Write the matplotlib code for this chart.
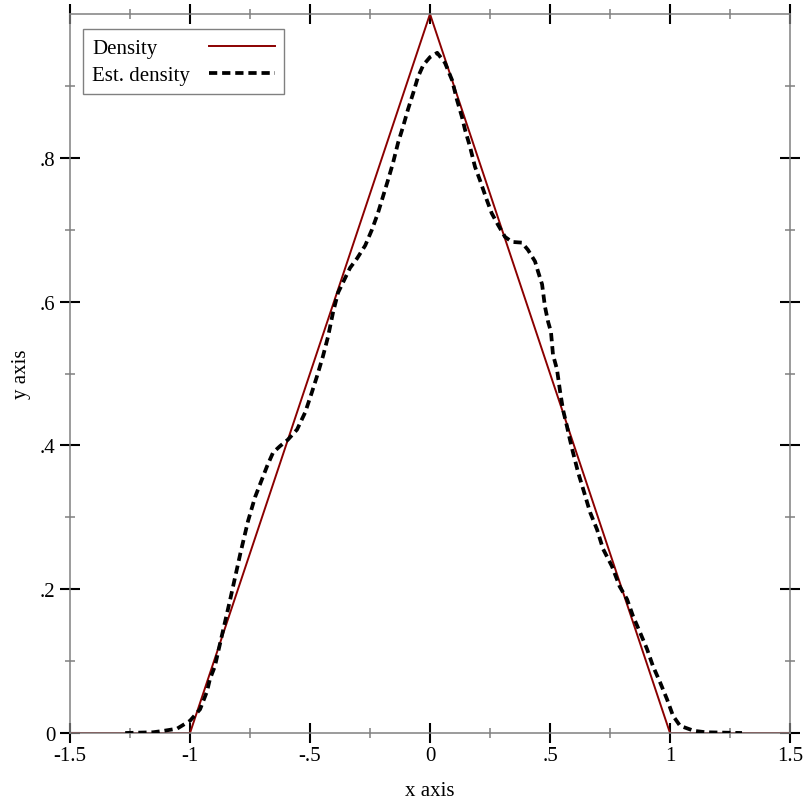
import numpy as np
import matplotlib
matplotlib.use('Agg')
import matplotlib.pyplot as plt
from matplotlib.ticker import FixedLocator, FuncFormatter

# exact density (triangle)
dens_x = [-1.5, -1.0, 0.0, 1.0, 1.5]
dens_y = [0.0, 0.0, 1.0, 0.0, 0.0]

# estimated density
est_x = [-1.27, -1.154, -1.11, -1.054, -1.0, -0.958, -0.929, -0.917, -0.896, -0.883,
         -0.833, -0.79, -0.758, -0.729, -0.7, -0.679, -0.654, -0.625, -0.592, -0.554,
         -0.52, -0.492, -0.471, -0.446, -0.425, -0.404, -0.383, -0.333, -0.304, -0.27,
         -0.242, -0.217, -0.196, -0.175, -0.154, -0.133, -0.1125, -0.092, -0.07, -0.05,
         -0.028, 0.0, 0.03, 0.0625, 0.092, 0.112, 0.133, 0.146, 0.167, 0.1875,
         0.208, 0.236, 0.257, 0.283, 0.3125, 0.342, 0.383, 0.408, 0.4375, 0.45,
         0.467, 0.479, 0.492, 0.504, 0.5125, 0.529, 0.542, 0.554, 0.571, 0.583,
         0.596, 0.617, 0.6375, 0.667, 0.696, 0.721, 0.758, 0.79, 0.821, 0.846,
         0.875, 0.904, 0.929, 0.958, 0.9875, 1.0125, 1.042, 1.1, 1.15, 1.3]
est_y = [0.0, 0.001, 0.003, 0.006, 0.017, 0.033, 0.058, 0.075, 0.093, 0.1125,
         0.185, 0.25, 0.295, 0.328, 0.353, 0.371, 0.39, 0.399, 0.408, 0.422,
         0.446, 0.474, 0.496, 0.524, 0.551, 0.585, 0.6125, 0.647, 0.66, 0.678,
         0.7, 0.723, 0.746, 0.769, 0.793, 0.821, 0.843, 0.867, 0.89, 0.9125,
         0.929, 0.94, 0.946, 0.932, 0.908, 0.881, 0.857, 0.839, 0.815, 0.7875,
         0.769, 0.742, 0.723, 0.707, 0.69, 0.683, 0.682, 0.672, 0.656, 0.642,
         0.624, 0.593, 0.572, 0.558, 0.526, 0.506, 0.475, 0.45, 0.426, 0.408,
         0.39, 0.3625, 0.34, 0.307, 0.283, 0.256, 0.232, 0.204, 0.186, 0.1625,
         0.14, 0.117, 0.093, 0.071, 0.047, 0.024, 0.01, 0.003, 0.001, 0.0]

x_major = [-1.5, -1.0, -0.5, 0.0, 0.5, 1.0, 1.5]
x_minor = [-1.25, -0.75, -0.25, 0.25, 0.75, 1.25]
y_major = [0.0, 0.2, 0.4, 0.6, 0.8]
y_minor = [0.1, 0.3, 0.5, 0.7, 0.9]

plt.rcParams['font.family'] = ['Liberation Serif', 'DejaVu Serif']
fs = 15
dpi = 100

def short_fmt(v, pos):
    s = '{:g}'.format(round(v, 6))
    if s.startswith('0.'):
        s = s[1:]
    elif s.startswith('-0.'):
        s = '-' + s[2:]
    return s

fig = plt.figure(figsize=(8.12, 8.12), dpi=dpi)
ax = fig.add_axes([70/812., 1 - 734/812., 720/812., 719/812.])

ax.plot(dens_x, dens_y, color='#8b0000', lw=1.4, label='Density', zorder=2)
ax.plot(est_x, est_y, color='black', lw=2.7, ls=(0, (2.2, 1.3)),
        label='Est. density', zorder=3)

ax.set_xlim(-1.5, 1.5)
ax.set_ylim(0, 1.0)

ax.xaxis.set_major_locator(FixedLocator(x_major))
ax.xaxis.set_minor_locator(FixedLocator(x_minor))
ax.yaxis.set_major_locator(FixedLocator(y_major))
ax.yaxis.set_minor_locator(FixedLocator(y_minor))
ax.xaxis.set_major_formatter(FuncFormatter(short_fmt))
ax.yaxis.set_major_formatter(FuncFormatter(short_fmt))

ax.tick_params(which='both', direction='inout', top=True, right=True)
ax.tick_params(which='major', length=14.4, width=1.5, color='black',
               labelsize=fs, labelcolor='black')
ax.tick_params(which='minor', length=7.2, width=1.1, color='#808080')
ax.tick_params(axis='x', which='major', pad=2)
ax.tick_params(axis='y', which='major', pad=3.5)

for sp in ax.spines.values():
    sp.set_color('#808080')
    sp.set_linewidth(1.1)

ax.set_xlabel('x axis', fontsize=fs, labelpad=12)
ax.set_ylabel('y axis', fontsize=fs, labelpad=6)

leg = ax.legend(loc='upper left', bbox_to_anchor=(0.018, 0.979), borderaxespad=0,
                fontsize=fs, markerfirst=False, fancybox=False, framealpha=1,
                edgecolor='#808080', handlelength=3.15, handletextpad=0.9,
                borderpad=0.45, labelspacing=0.35)
leg.get_frame().set_linewidth(1.0)

# labels left-aligned, line samples right-aligned: widen the gap of the shorter rows
fig.canvas.draw()
r = fig.canvas.get_renderer()
widths = [t.get_window_extent(r).width for t in leg.get_texts()]
rows = leg._legend_handle_box.get_children()[0].get_children()
for row, w in zip(rows, widths):
    row.sep += (max(widths) - w) * 72.0 / dpi

fig.savefig('out.png', dpi=dpi)
